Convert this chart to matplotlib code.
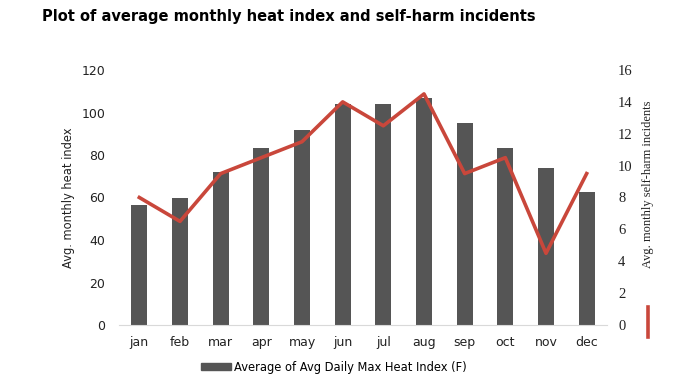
import numpy as np
import matplotlib
matplotlib.use("Agg")
import matplotlib.pyplot as plt
from matplotlib.lines import Line2D

months = ["jan", "feb", "mar", "apr", "may", "jun", "jul", "aug", "sep", "oct", "nov", "dec"]
heat_index = [56.5, 60, 72, 83.5, 92, 104, 104, 107, 95, 83.5, 74, 62.5]
self_harm = [8, 6.5, 9.5, 10.5, 11.5, 14, 12.5, 14.5, 9.5, 10.5, 4.5, 9.5]
left_ticks = [0, 20, 40, 60, 80, 100, 120]
right_ticks = [0, 2, 4, 6, 8, 10, 12, 14, 16]

bar_col = "#555555"
line_col = "#c9473b"

fig = plt.figure(figsize=(6.79, 3.82), dpi=100)
ax = fig.add_axes([119 / 679, 1 - 325 / 382, (607 - 119) / 679, (325 - 70) / 382])
x = np.arange(len(months))

ax.bar(x, heat_index, width=0.4, color=bar_col, zorder=2)
ax.set_xlim(-0.5, len(months) - 0.5)
ax.set_ylim(0, 120)
ax.set_xticks(x)
ax.set_xticklabels(months, fontsize=9, color="#222222")
ax.set_yticks(left_ticks)
ax.set_yticklabels([str(t) for t in left_ticks], fontsize=9, color="#222222")
ax.tick_params(axis="both", length=0, pad=8)
ax.tick_params(axis="y", pad=10)
for s in ["top", "left", "right"]:
    ax.spines[s].set_visible(False)
ax.spines["bottom"].set_color("#d9d9d9")
ax.set_ylabel("Avg. monthly heat index", fontsize=8.3, color="#222222")
ax.yaxis.set_label_coords(-0.09, 0.5)

ax2 = ax.twinx()
ax2.plot(x, self_harm, color=line_col, lw=2.6, zorder=3)
ax2.set_ylim(0, 16)
ax2.set_yticks(right_ticks)
ax2.set_yticklabels([str(t) for t in right_ticks], fontsize=10.5,
                    family="Liberation Serif", color="#222222")
ax2.tick_params(axis="y", length=0, pad=8)
for s in ax2.spines.values():
    s.set_visible(False)
ax2.set_ylabel("Avg. monthly self-harm incidents", fontsize=8.9,
               family="Liberation Serif", color="#222222")
ax2.yaxis.set_label_coords(1.072, 0.55)

fig.text(42 / 679, 1 - 17 / 382, "Plot of average monthly heat index and self-harm incidents",
         fontsize=10.5, fontweight="bold", va="center", ha="left")

handle = plt.Rectangle((0, 0), 1, 1, color=bar_col)
fig.legend([handle], ["Average of Avg Daily Max Heat Index (F)"], loc="center",
           bbox_to_anchor=(334 / 679, 1 - 367 / 382), frameon=False, fontsize=8.3,
           handlelength=2.6, handleheight=0.5, handletextpad=0.3)

fig.add_artist(Line2D([648 / 679, 648 / 679], [1 - 307 / 382, 1 - 337 / 382],
                      color=line_col, lw=2.6))

fig.savefig("out.png", dpi=100)
